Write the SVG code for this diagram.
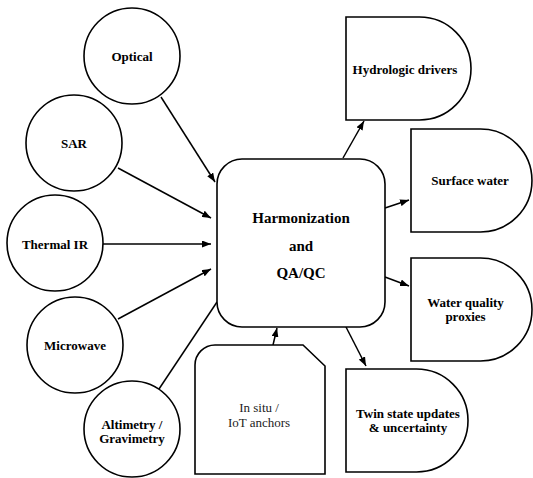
<svg xmlns="http://www.w3.org/2000/svg" width="533" height="478" viewBox="0 0 533 478">
<defs>
<marker id="arr" viewBox="0 0 9 7" refX="9" refY="3.5" markerWidth="9" markerHeight="7" markerUnits="userSpaceOnUse" orient="auto">
<path d="M0,0 L9,3.5 L0,7 z" fill="#000"/>
</marker>
</defs>
<style>
.shape{fill:#fff;stroke:#000;stroke-width:1.6}
.edge{fill:none;stroke:#000;stroke-width:1.5}
.lbl{font-family:"Liberation Serif","Times New Roman",serif;font-size:13px;font-weight:bold;text-anchor:middle;fill:#000}
.big{font-family:"Liberation Serif","Times New Roman",serif;font-size:15px;font-weight:bold;text-anchor:middle;fill:#000}
.norm{font-family:"Liberation Serif","Times New Roman",serif;font-size:13px;text-anchor:middle;fill:#222}
</style>
<rect width="533" height="478" fill="#fff"/>
<g id="connectors">
<line class="edge" x1="161" y1="97" x2="215" y2="182" marker-end="url(#arr)"/>
<line class="edge" x1="118" y1="168" x2="211" y2="218" marker-end="url(#arr)"/>
<line class="edge" x1="103" y1="244" x2="211" y2="244" marker-end="url(#arr)"/>
<line class="edge" x1="118" y1="319" x2="211" y2="269" marker-end="url(#arr)"/>
<line class="edge" x1="159" y1="389" x2="217" y2="302"/>
<line class="edge" x1="343" y1="158" x2="364" y2="121" marker-end="url(#arr)"/>
<line class="edge" x1="385" y1="208" x2="409" y2="200" marker-end="url(#arr)"/>
<line class="edge" x1="385" y1="277" x2="409" y2="286" marker-end="url(#arr)"/>
<line class="edge" x1="346" y1="327" x2="366" y2="366" marker-end="url(#arr)"/>
<line class="edge" x1="273" y1="345" x2="277" y2="328" marker-end="url(#arr)"/>
</g>
<g id="optical"><circle class="shape" cx="132" cy="56" r="48"/><text class="lbl" x="132" y="61">Optical</text></g>
<g id="sar"><circle class="shape" cx="74" cy="143" r="48"/><text class="lbl" x="74" y="148">SAR</text></g>
<g id="thermal"><circle class="shape" cx="55" cy="243" r="48"/><text class="lbl" x="55" y="248.5">Thermal IR</text></g>
<g id="microwave"><circle class="shape" cx="75" cy="345" r="48"/><text class="lbl" x="75" y="350">Microwave</text></g>
<g id="altimetry"><circle class="shape" cx="132" cy="429" r="48"/><text class="lbl" x="132" y="428.5">Altimetry /</text><text class="lbl" x="132" y="442.5">Gravimetry</text></g>
<g id="harmonization"><rect class="shape" x="217" y="159" width="168" height="168" rx="25" ry="25"/>
<text class="big" x="301" y="223">Harmonization</text><text class="big" x="301" y="251">and</text><text class="big" x="301" y="278">QA/QC</text></g>
<g id="insitu"><path class="shape" d="M195,474 L195,365 A20,20 0 0 1 215,345 L303,345 L325,366 L325,474 Z"/>
<text class="norm" x="259" y="411.5">In situ /</text><text class="norm" x="259" y="426.5">IoT anchors</text></g>
<g id="hydrologic"><path class="shape" d="M346,17 L419.5,17 A51.5,51.5 0 0 1 419.5,120 L346,120 Z"/><text class="lbl" x="405" y="73.5">Hydrologic drivers</text></g>
<g id="surface"><path class="shape" d="M411,129 L480.5,129 A51.5,51.5 0 0 1 480.5,232 L411,232 Z"/><text class="lbl" x="470" y="184.5">Surface water</text></g>
<g id="waterquality"><path class="shape" d="M411,258 L480.5,258 A51.5,51.5 0 0 1 480.5,361 L411,361 Z"/><text class="lbl" x="465.5" y="306.5">Water quality</text><text class="lbl" x="465.5" y="320.5">proxies</text></g>
<g id="twin"><path class="shape" d="M346,369 L416.5,369 A51.5,51.5 0 0 1 416.5,472 L346,472 Z"/><text class="lbl" x="408" y="417.5">Twin state updates</text><text class="lbl" x="408" y="431.5">&amp; uncertainty</text></g>
</svg>
